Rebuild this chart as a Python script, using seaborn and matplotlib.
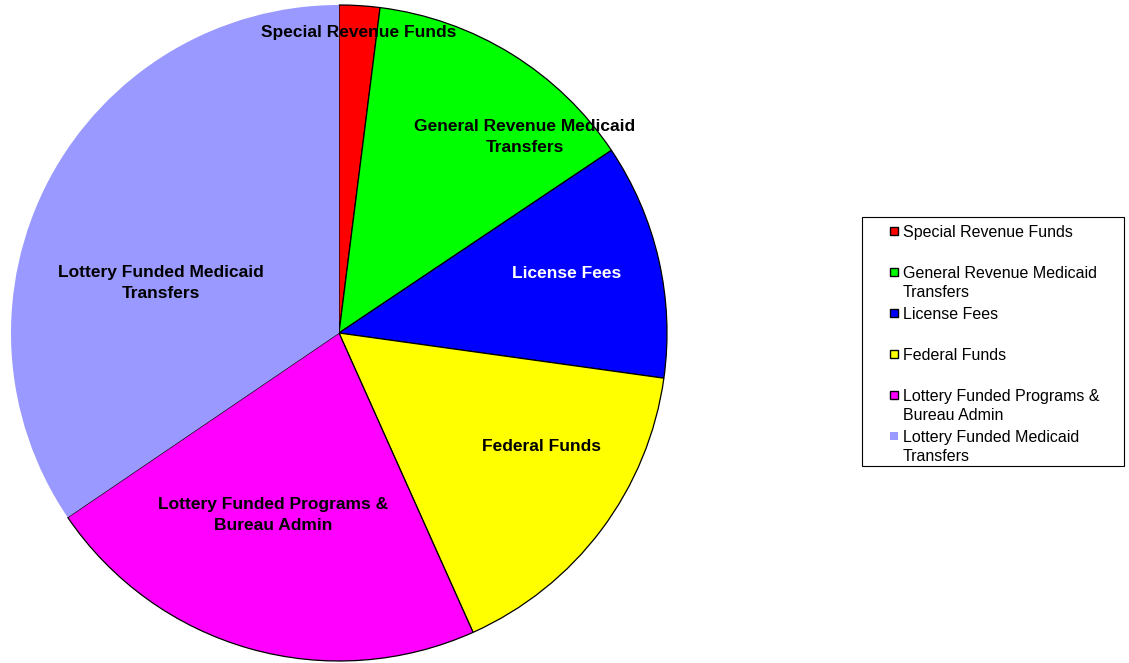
import matplotlib
matplotlib.use("Agg")
import matplotlib.pyplot as plt
from matplotlib.patches import Rectangle
import seaborn as sns

# slice data (percent of total)
funds = ["Special Revenue Funds", "General Revenue Medicaid Transfers", "License Fees",
         "Federal Funds", "Lottery Funded Programs & Bureau Admin",
         "Lottery Funded Medicaid Transfers"]
shares = [2.0, 13.6, 11.6, 16.1, 22.2, 34.5]
colors = ["#FF0000", "#00FF00", "#0000FF", "#FFFF00", "#FF00FF", "#9999FF"]

# text shown on the pie and in the legend (line breaks as in the original)
pie_text = ["Special Revenue Funds", "General Revenue Medicaid\nTransfers", "License Fees",
            "Federal Funds", "Lottery Funded Programs &\nBureau Admin",
            "Lottery Funded Medicaid\nTransfers"]
legend_text = ["Special Revenue Funds", "General Revenue Medicaid\nTransfers", "License Fees",
               "Federal Funds", "Lottery Funded Programs &\nBureau Admin",
               "Lottery Funded Medicaid\nTransfers"]
text_colors = ["black", "black", "white", "black", "black", "black"]

sns.set_style("white")
plt.rcParams["font.family"] = ["Liberation Sans", "DejaVu Sans"]
plt.rcParams["text.color"] = "black"
palette = sns.color_palette(colors)

W, H = 1129, 663
fig = plt.figure(figsize=(W / 100, H / 100), dpi=100)

def fx(x):
    return x / W

def fy(y):
    return 1 - y / H

# pie axes: centre (339, 333), radius 328 px
cx, cy, r = 339, 333, 328
ax = fig.add_axes([fx(cx - r), fy(cy + r), 2 * r / W, 2 * r / H])
wedges, _ = ax.pie(shares, colors=palette, startangle=90, counterclock=False,
                   radius=1, wedgeprops=dict(edgecolor="black", linewidth=0.9))
wedges[-1].set_edgecolor("none")
ax.set_xlim(-1, 1)
ax.set_ylim(-1, 1)
ax.set_aspect("equal")
ax.axis("off")

# label placement (pixel positions of text centres in the original)
label_px = [(359, 33), (525, 137), (567, 274), (542, 447), (273, 515), (161, 283)]
for txt, col, (px, py) in zip(pie_text, text_colors, label_px):
    ax.text((px - cx) / r, (cy - py) / r, txt, ha="center", va="center",
            fontsize=12.5, fontweight="bold", color=col, linespacing=1.55)

# legend box, drawn by hand so two-line entries keep the even row pitch
fig.patches.append(Rectangle((fx(862), fy(466)), (1124 - 862) / W, (466 - 217) / H,
                             transform=fig.transFigure, facecolor="white",
                             edgecolor="black", linewidth=0.8))
row_px = [231, 272, 313, 354, 395, 436]
for i, (txt, y) in enumerate(zip(legend_text, row_px)):
    edge = "none" if i == len(legend_text) - 1 else "black"
    fig.patches.append(Rectangle((fx(890), fy(y + 4)), 8 / W, 8 / H,
                                 transform=fig.transFigure, facecolor=palette[i],
                                 edgecolor=edge, linewidth=1.0))
    fig.text(fx(903), fy(y - 6), txt, ha="left", va="top", fontsize=11.5,
             color="black", linespacing=1.32)

fig.savefig("out.png", dpi=100)
